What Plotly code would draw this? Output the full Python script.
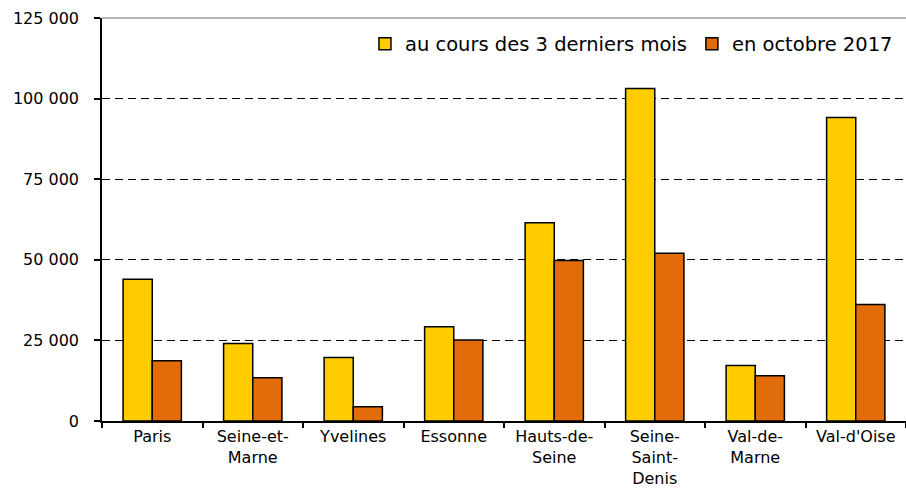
import plotly.graph_objects as go

categories = ["Paris", "Seine-et-<br>Marne", "Yvelines", "Essonne", "Hauts-de-<br>Seine",
              "Seine-<br>Saint-<br>Denis", "Val-de-<br>Marne", "Val-d'Oise"]
series_names = ["au cours des 3 derniers mois", "en octobre 2017"]
trois_mois = [44000, 24000, 19700, 29200, 61500, 103100, 17200, 94100]
octobre_2017 = [18700, 13400, 4400, 25100, 49800, 52000, 14000, 36100]
y_tickvals = [0, 25000, 50000, 75000, 100000, 125000]
y_ticktext = ["0", "25 000", "50 000", "75 000", "100 000", "125 000"]
grid_vals = [25000, 50000, 75000, 100000]

FONT = "DejaVu Sans"

fig = go.Figure()
fig.add_trace(go.Bar(x=categories, y=trois_mois, name=series_names[0],
                     marker=dict(color="#FFCC00", line=dict(color="#000000", width=1.5))))
fig.add_trace(go.Bar(x=categories, y=octobre_2017, name=series_names[1],
                     marker=dict(color="#E36C0A", line=dict(color="#000000", width=1.5))))
# invisible helper trace for dashed grid axis
fig.add_trace(go.Scatter(x=[categories[0]], y=[0], yaxis="y2", mode="markers",
                         marker=dict(opacity=0), showlegend=False, hoverinfo="skip"))

fig.update_layout(
    width=906, height=488,
    margin=dict(l=102, r=0, t=18, b=67),
    paper_bgcolor="white", plot_bgcolor="white",
    font=dict(family=FONT, size=16, color="#000000"),
    barmode="group", bargap=0.42, bargroupgap=0,
    showlegend=True,
    legend=dict(orientation="h", x=0.99, xanchor="right", y=0.935, yanchor="middle",
                font=dict(family=FONT, size=19.5), bgcolor="rgba(0,0,0,0)",
                itemwidth=30, traceorder="normal"),
    xaxis=dict(range=[-0.5, 7.5], showline=True, linecolor="#000000", linewidth=1.5,
               ticks="outside", tickson="boundaries", ticklen=5, tickcolor="#000000",
               tickwidth=1.5, showgrid=False, tickfont=dict(family=FONT, size=16),
               fixedrange=True),
    yaxis=dict(range=[0, 125000], tickvals=y_tickvals, ticktext=y_ticktext,
               showline=True, linecolor="#000000", linewidth=1.5, ticks="outside",
               ticklen=6, tickcolor="#000000", tickwidth=1.5, showgrid=False,
               zeroline=False, tickfont=dict(family=FONT, size=16), ticklabelstandoff=12),
    yaxis2=dict(range=[0, 125000], overlaying="y", tickvals=grid_vals, showticklabels=False,
                showgrid=True, gridcolor="#000000", gridwidth=1.3, griddash="8px,5px",
                zeroline=False, showline=False, ticks="", layer="below traces"),
    shapes=[dict(type="line", xref="paper", yref="paper", x0=0, x1=1, y0=1, y1=1,
                 line=dict(color="#A0A0A0", width=1.3))],
)

fig.write_html("out.html", config={"displayModeBar": False},
               post_script="document.body.style.margin='0';document.body.style.padding='0';")
